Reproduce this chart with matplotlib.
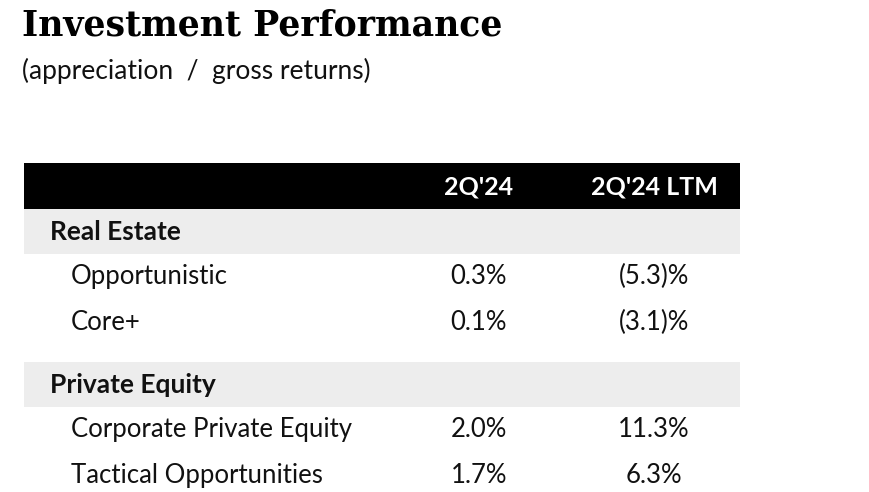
import matplotlib.pyplot as plt
from matplotlib.patches import Rectangle

# table content
columns = ["2Q'24", "2Q'24 LTM"]
sections = ["Real Estate", "Private Equity"]
rows = {
    "Real Estate": ["Opportunistic", "Core+"],
    "Private Equity": ["Corporate Private Equity", "Tactical Opportunities"],
}
qtr = {
    "Opportunistic": "0.3%",
    "Core+": "0.1%",
    "Corporate Private Equity": "2.0%",
    "Tactical Opportunities": "1.7%",
}
ltm = {
    "Opportunistic": "(5.3)%",
    "Core+": "(3.1)%",
    "Corporate Private Equity": "11.3%",
    "Tactical Opportunities": "6.3%",
}

W, H = 870, 492
fig = plt.figure(figsize=(W / 100, H / 100), dpi=100)
ax = fig.add_axes([0, 0, 1, 1])
ax.set_xlim(0, W)
ax.set_ylim(H, 0)
ax.axis('off')

body_font = 'Lato'
fs = 18.5
txt = '#111111'

ax.text(22, 36, "Investment Performance", fontsize=25, fontweight='bold',
        family='DejaVu Serif', va='baseline', ha='left', color='black')
ax.text(22, 71, "(appreciation  /  gross returns)", fontsize=19,
        family=body_font, va='center', ha='left', color=txt)

left, right = 24, 740
col_x = [479, 654]
row_h = 45.5

# header bar
top = 163
ax.add_patch(Rectangle((left, top), right - left, 46, color='black', lw=0))
for cx, name in zip(col_x, columns):
    ax.text(cx, top + 24, name, fontsize=18, fontweight='bold', family=body_font,
            color='white', ha='center', va='center')

y = top + 46
for k, sec in enumerate(sections):
    if k > 0:
        y += 17
    ax.add_patch(Rectangle((left, y), right - left, 45, color='#ededed', lw=0))
    ax.text(50, y + 23, sec, fontsize=19, fontweight='bold', family=body_font,
            color=txt, ha='left', va='center')
    y += 45
    for r in rows[sec]:
        cy = y + row_h / 2
        ax.text(71, cy, r, fontsize=fs, family=body_font, color=txt,
                ha='left', va='center')
        ax.text(col_x[0], cy, qtr[r], fontsize=fs, family=body_font,
                color=txt, ha='center', va='center')
        ax.text(col_x[1], cy, ltm[r], fontsize=fs, family=body_font,
                color=txt, ha='center', va='center')
        y += row_h

fig.savefig('out.png', dpi=100)
